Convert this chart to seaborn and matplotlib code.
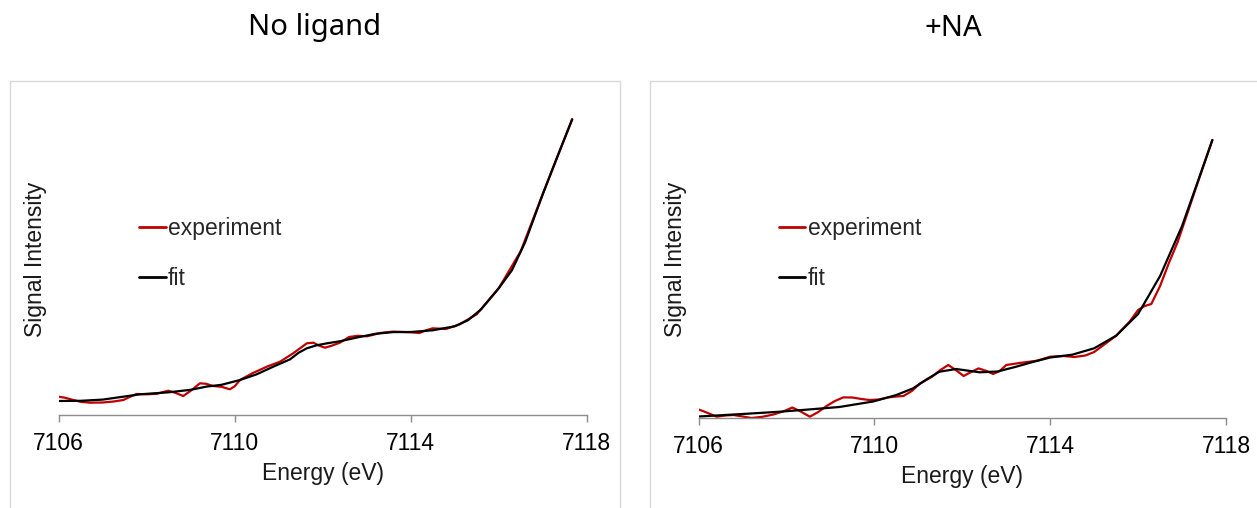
import matplotlib
matplotlib.use("Agg")
import matplotlib.pyplot as plt
from matplotlib.patches import Rectangle
import seaborn as sns

# Pre-edge XANES spectra (arbitrary intensity units) with their fits
energy_ticks = [7106, 7110, 7114, 7118]

noligand_exp_E = [7106.0, 7106.15, 7106.33, 7106.5, 7106.71, 7107.0, 7107.25, 7107.47, 7107.62,
                  7107.77, 7108.0, 7108.23, 7108.49, 7108.65, 7108.83, 7109.0, 7109.21, 7109.35,
                  7109.51, 7109.7, 7109.89, 7110.0, 7110.12, 7110.4, 7110.73, 7111.03, 7111.33,
                  7111.5, 7111.64, 7111.79, 7111.9, 7112.05, 7112.2, 7112.39, 7112.6, 7112.8,
                  7113.0, 7113.15, 7113.3, 7113.6, 7114.0, 7114.2, 7114.35, 7114.5, 7114.8,
                  7115.1, 7115.5, 7116.0, 7116.5, 7117.0, 7117.5, 7117.67]
noligand_exp_I = [18.6, 17.5, 15.3, 13.5, 12.6, 12.8, 13.8, 15.3, 18.5,
                  21.3, 21.0, 21.5, 24.6, 22.5, 19.3, 24.5, 32.0, 31.5,
                  29.3, 28.5, 26.0, 29.0, 35.3, 42.0, 48.6, 53.6, 62.0,
                  67.5, 72.0, 72.6, 70.0, 67.6, 69.5, 72.6, 78.3, 79.5,
                  79.0, 80.5, 82.3, 83.7, 83.0, 82.3, 85.0, 87.0, 86.3,
                  90.7, 101.0, 127.0, 164.0, 221.0, 277.0, 296.0]

noligand_fit_E = [7106.0, 7106.5, 7107.0, 7107.85, 7108.5, 7109.0, 7109.36, 7109.7, 7110.12,
                  7110.5, 7110.88, 7111.26, 7111.45, 7111.64, 7111.86, 7112.1, 7112.39, 7112.8,
                  7113.2, 7113.6, 7114.0, 7114.5, 7115.0, 7115.3, 7115.6, 7116.0, 7116.3,
                  7116.6, 7117.0, 7117.3, 7117.67]
noligand_fit_I = [14.3, 14.5, 15.7, 21.0, 23.0, 25.5, 28.7, 30.5, 35.3,
                  41.0, 48.7, 56.0, 62.5, 67.0, 70.0, 72.0, 74.0, 78.0,
                  81.5, 83.2, 83.3, 85.0, 89.0, 95.0, 106.0, 127.0, 145.0,
                  173.0, 221.0, 255.0, 296.0]

na_exp_E = [7106.0, 7106.18, 7106.41, 7106.6, 7106.79, 7107.0, 7107.2, 7107.45, 7107.7,
            7107.95, 7108.13, 7108.3, 7108.53, 7108.72, 7108.91, 7109.1, 7109.29, 7109.5,
            7109.7, 7109.89, 7110.1, 7110.3, 7110.5, 7110.66, 7110.85, 7111.04, 7111.3,
            7111.5, 7111.68, 7111.85, 7112.03, 7112.2, 7112.37, 7112.55, 7112.7, 7112.85,
            7113.0, 7113.3, 7113.7, 7114.0, 7114.3, 7114.55, 7114.8, 7115.0, 7115.5,
            7115.8, 7116.0, 7116.15, 7116.3, 7116.5, 7116.7, 7116.9, 7117.1, 7117.3,
            7117.5, 7117.69]
na_exp_I = [8.5, 5.5, 1.3, 2.5, 3.0, 1.5, 0.0, 1.2, 3.5,
            7.0, 10.5, 7.0, 1.3, 6.0, 12.0, 17.0, 20.6, 20.5,
            19.0, 18.0, 18.5, 20.5, 21.5, 22.0, 27.0, 34.6, 41.0,
            48.0, 53.0, 48.0, 42.0, 46.0, 49.6, 47.0, 44.0, 47.0,
            53.0, 55.0, 57.3, 61.3, 62.0, 61.0, 62.5, 66.0, 82.3,
            96.0, 108.0, 112.0, 114.0, 132.0, 155.0, 176.0, 202.0, 228.0,
            254.0, 278.0]

na_fit_E = [7106.0, 7107.0, 7107.85, 7108.5, 7109.2, 7109.97, 7110.5, 7110.88, 7111.2,
            7111.48, 7111.86, 7112.39, 7112.8, 7113.2, 7113.6, 7114.0, 7114.5, 7115.0,
            7115.5, 7116.0, 7116.5, 7117.0, 7117.5, 7117.69]
na_fit_I = [1.5, 4.0, 6.3, 8.5, 11.0, 16.5, 23.0, 29.7, 39.0,
            46.3, 49.0, 45.7, 46.5, 51.0, 56.0, 60.5, 63.3, 69.7,
            82.3, 104.0, 142.0, 192.0, 254.0, 278.0]

panels = [
    ("No ligand", noligand_exp_E, noligand_exp_I, noligand_fit_E, noligand_fit_I),
    ("+NA", na_exp_E, na_exp_I, na_fit_E, na_fit_I),
]

sns.set_theme(style="white")
plt.rcParams["font.family"] = ["Liberation Sans", "DejaVu Sans"]

W, H = 1257, 508
fig = plt.figure(figsize=(W / 100, H / 100), dpi=100)


def px_rect(x0, y0, x1, y1):
    """Axes rectangle from pixel edges (origin top-left)."""
    return [x0 / W, 1 - y1 / H, (x1 - x0) / W, (y1 - y0) / H]


# chart-area frames
for fx0, fx1 in [(10, 620), (650, 1262)]:
    fig.add_artist(Rectangle((fx0 / W, -0.01), (fx1 - fx0) / W, 1.01 - 81.3 / H,
                             transform=fig.transFigure, fill=False,
                             edgecolor="#d9d9d9", linewidth=1.0))

axes_px = [(58.7, 100, 586.7, 415.3), (698.7, 100, 1226.0, 418.0)]
title_x = [314.5, 953.0]
ylabel_x = [36.0, 676.0]
legend_x = [139.4, 779.0]

spine_color = "#8c8c8c"
red = "#c00000"

for i, (title, eE, eI, fE, fI) in enumerate(panels):
    x0, y0, x1, y1 = axes_px[i]
    ax = fig.add_axes(px_rect(x0, y0, x1, y1))
    sns.lineplot(x=eE, y=eI, ax=ax, color=red, linewidth=1.6, label="experiment", sort=False)
    sns.lineplot(x=fE, y=fI, ax=ax, color="black", linewidth=1.6, label="fit", sort=False)

    ax.set_xlim(7106, 7118)
    ax.set_ylim(0, y1 - y0)
    ax.set_xticks(energy_ticks)
    ax.set_xticklabels([str(t) for t in energy_ticks])
    ax.set_yticks([])
    for side in ("top", "right", "left"):
        ax.spines[side].set_visible(False)
    ax.spines["bottom"].set_color(spine_color)
    ax.spines["bottom"].set_linewidth(1.0)
    ax.tick_params(axis="x", which="major", bottom=True, direction="out", length=5,
                   width=1.0, color=spine_color, labelsize=16.5, pad=7, labelcolor="black")
    ax.set_xlabel("Energy (eV)", fontsize=16.5, labelpad=5, color="#1a1a1a")
    ax.set_ylabel("")
    ax.patch.set_alpha(0)

    fig.text(ylabel_x[i] / W, 1 - 259 / H, "Signal Intensity", rotation=90,
             ha="center", va="center", fontsize=16.5, color="#1a1a1a")
    fig.text(title_x[i] / W, 1 - 28 / H, title, ha="center", va="center",
             fontsize=21, family=["Noto Sans", "DejaVu Sans"], color="black")

    leg = ax.legend(loc="center left", bbox_to_anchor=(legend_x[i] / W, 1 - 253.5 / H),
                    bbox_transform=fig.transFigure, frameon=False, fontsize=16.5,
                    handlelength=1.15, handletextpad=0.1, labelspacing=1.15,
                    borderpad=0, borderaxespad=0)
    for line in leg.get_lines():
        line.set_linewidth(2.0)

fig.savefig("out.png", dpi=100)
